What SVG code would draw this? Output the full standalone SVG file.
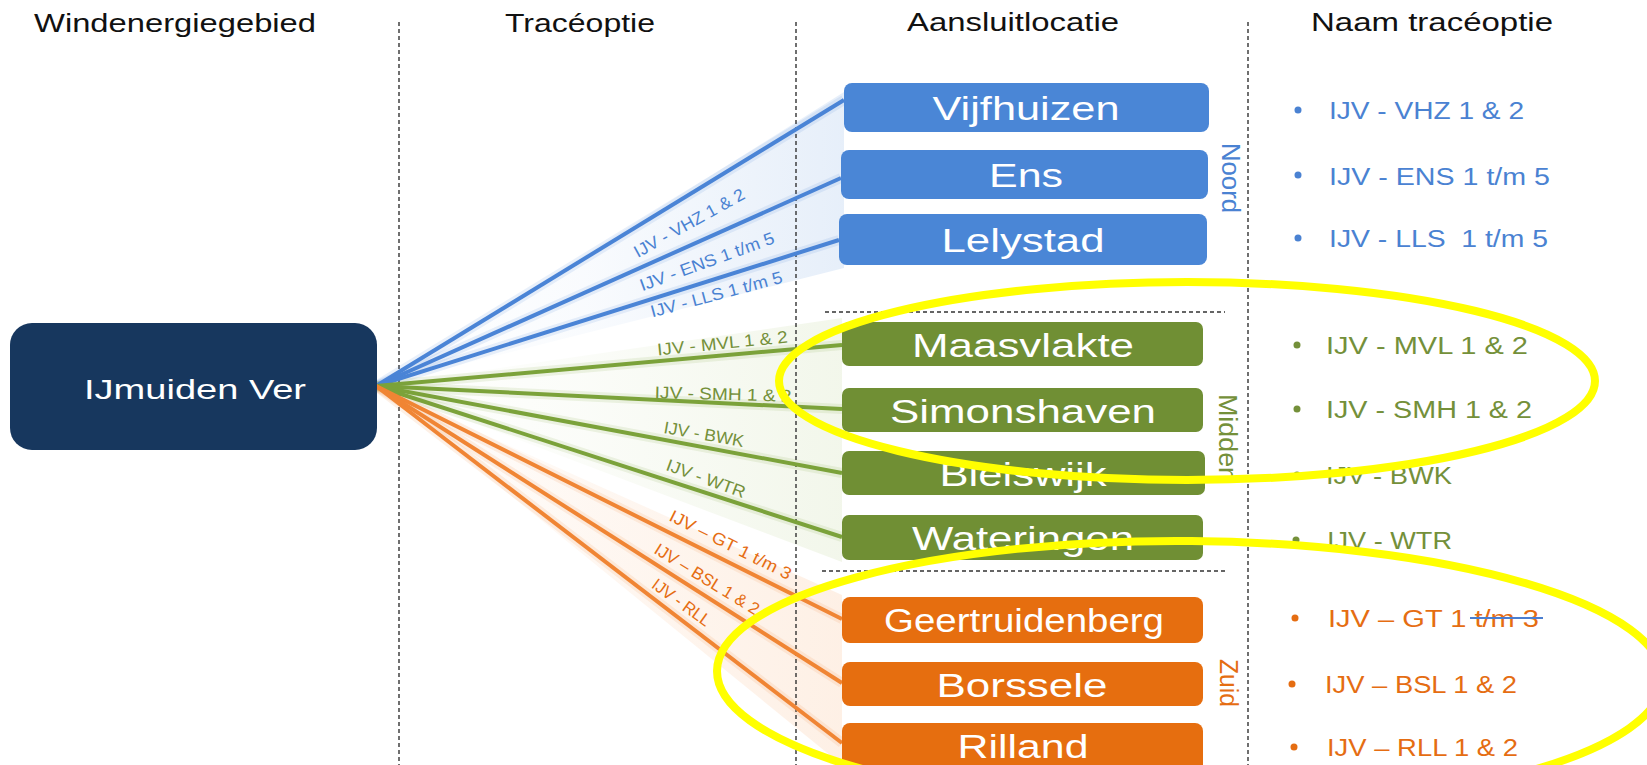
<svg xmlns="http://www.w3.org/2000/svg" width="1647" height="765" viewBox="0 0 1647 765">
<defs>
<style>
.title{font-family:"Liberation Sans",Arial,sans-serif;font-size:26px;fill:#111;}
.box text,.btxt{font-family:"Liberation Sans",Arial,sans-serif;font-size:34px;fill:#fff;text-anchor:middle;}
.lbl{font-family:"Liberation Sans",Arial,sans-serif;font-size:17px;text-anchor:middle;}
.li{font-family:"Liberation Sans",Arial,sans-serif;font-size:23px;}
.side{font-family:"Liberation Sans",Arial,sans-serif;font-size:25px;text-anchor:middle;}
.blue{fill:#4a82d2;}
.green{fill:#74903a;}
.orange{fill:#e56d12;}
.vdash{stroke:#333;stroke-width:1.4;stroke-dasharray:4 3;fill:none;}
.bl{stroke:#4a84d6;stroke-width:4;fill:none;}
.gl{stroke:#7ba23a;stroke-width:4;fill:none;}
.ol{stroke:#f08534;stroke-width:4;fill:none;}
.glow{stroke-width:10;stroke-opacity:0.12;fill:none;}
.yel{fill:none;stroke:#ffff00;stroke-width:8;}
</style>
<linearGradient id="gB" x1="0" y1="0" x2="1" y2="0">
<stop offset="0" stop-color="#d6e4f6" stop-opacity="0"/>
<stop offset="0.45" stop-color="#d6e4f6" stop-opacity="0.15"/>
<stop offset="1" stop-color="#d6e4f6" stop-opacity="0.6"/>
</linearGradient>
<linearGradient id="gG" x1="0" y1="0" x2="1" y2="0">
<stop offset="0" stop-color="#eaf1dd" stop-opacity="0"/>
<stop offset="0.45" stop-color="#eaf1dd" stop-opacity="0.2"/>
<stop offset="1" stop-color="#eaf1dd" stop-opacity="0.6"/>
</linearGradient>
<linearGradient id="gO" x1="0" y1="0" x2="1" y2="0">
<stop offset="0" stop-color="#fde6d4" stop-opacity="0"/>
<stop offset="0.45" stop-color="#fde6d4" stop-opacity="0.3"/>
<stop offset="1" stop-color="#fde6d4" stop-opacity="0.6"/>
</linearGradient>
</defs>
<rect x="0" y="0" width="1647" height="765" fill="#ffffff"/>

<g id="titles">
<text class="title" x="34" y="32" textLength="282" lengthAdjust="spacingAndGlyphs">Windenergiegebied</text>
<text class="title" x="505" y="32" textLength="150" lengthAdjust="spacingAndGlyphs">Tracéoptie</text>
<text class="title" x="907" y="31" textLength="212" lengthAdjust="spacingAndGlyphs">Aansluitlocatie</text>
<text class="title" x="1311" y="31" textLength="242" lengthAdjust="spacingAndGlyphs">Naam tracéoptie</text>
</g>

<g id="fans">
<polygon points="376,386 844,92 844,268" fill="url(#gB)"/>
<polygon points="376,386 842,318 842,562" fill="url(#gG)"/>
<polygon points="376,386 842,595 842,765" fill="url(#gO)"/>
</g>

<g id="dividers">
<line class="vdash" x1="399" y1="22" x2="399" y2="765"/>
<line class="vdash" x1="796" y1="22" x2="796" y2="765"/>
<line class="vdash" x1="1248" y1="22" x2="1248" y2="765"/>
<line class="vdash" x1="825" y1="312" x2="1225" y2="312"/>
<line class="vdash" x1="822" y1="571" x2="1225" y2="571"/>
</g>

<g id="connectors">
<g stroke="#4a84d6" class="glow">
<line x1="376" y1="386" x2="844" y2="100"/>
<line x1="376" y1="386" x2="841" y2="178"/>
<line x1="376" y1="386" x2="839" y2="240"/>
</g>
<g stroke="#7ba23a" class="glow">
<line x1="376" y1="386" x2="842" y2="345"/>
<line x1="376" y1="386" x2="842" y2="409"/>
<line x1="376" y1="386" x2="842" y2="473"/>
<line x1="376" y1="386" x2="842" y2="537"/>
</g>
<g stroke="#f08534" class="glow">
<line x1="376" y1="386" x2="842" y2="619"/>
<line x1="376" y1="386" x2="842" y2="683"/>
<line x1="376" y1="386" x2="842" y2="743"/>
</g>
<line class="bl" x1="376" y1="386" x2="844" y2="100"/>
<line class="bl" x1="376" y1="386" x2="841" y2="178"/>
<line class="bl" x1="376" y1="386" x2="839" y2="240"/>
<line class="gl" x1="376" y1="386" x2="842" y2="345"/>
<line class="gl" x1="376" y1="386" x2="842" y2="409"/>
<line class="gl" x1="376" y1="386" x2="842" y2="473"/>
<line class="gl" x1="376" y1="386" x2="842" y2="537"/>
<line class="ol" x1="376" y1="386" x2="842" y2="619"/>
<line class="ol" x1="376" y1="386" x2="842" y2="683"/>
<line class="ol" x1="376" y1="386" x2="842" y2="743"/>

<text class="lbl blue" transform="translate(692,228) rotate(-29)" textLength="124" lengthAdjust="spacingAndGlyphs">IJV - VHZ 1 &amp; 2</text>
<text class="lbl blue" transform="translate(709,267) rotate(-20)" textLength="142" lengthAdjust="spacingAndGlyphs">IJV - ENS 1 t/m 5</text>
<text class="lbl blue" transform="translate(718,300) rotate(-15)" textLength="136" lengthAdjust="spacingAndGlyphs">IJV - LLS 1 t/m 5</text>
<text class="lbl green" transform="translate(723,349) rotate(-5.7)" textLength="131" lengthAdjust="spacingAndGlyphs">IJV - MVL 1 &amp; 2</text>
<text class="lbl green" transform="translate(723,400) rotate(1.5)" textLength="137" lengthAdjust="spacingAndGlyphs">IJV - SMH 1 &amp; 2</text>
<text class="lbl green" transform="translate(703,440) rotate(10)" textLength="81" lengthAdjust="spacingAndGlyphs">IJV - BWK</text>
<text class="lbl green" transform="translate(704,484) rotate(20)" textLength="83" lengthAdjust="spacingAndGlyphs">IJV - WTR</text>
<text class="lbl orange" transform="translate(728,550) rotate(26.6)" textLength="134" lengthAdjust="spacingAndGlyphs">IJV – GT 1 t/m 3</text>
<text class="lbl orange" transform="translate(704,584) rotate(31.7)" textLength="120" lengthAdjust="spacingAndGlyphs">IJV – BSL 1 &amp; 2</text>
<text class="lbl orange" transform="translate(678,607) rotate(36)" textLength="68" lengthAdjust="spacingAndGlyphs">IJV - RLL</text>
</g>

<g id="ijmuiden">
<rect x="10" y="323" width="367" height="127" rx="22" fill="#17375e"/>
<text class="btxt" x="195" y="399" style="font-size:28px" textLength="222" lengthAdjust="spacingAndGlyphs">IJmuiden Ver</text>
</g>

<g id="vijfhuizen" class="box"><rect x="844" y="83" width="365" height="49" rx="8" fill="#4a86d6"/><text x="1026" y="120" textLength="187" lengthAdjust="spacingAndGlyphs">Vijfhuizen</text></g>
<g id="ens" class="box"><rect x="841" y="150" width="367" height="49" rx="8" fill="#4a86d6"/><text x="1026" y="187" textLength="74" lengthAdjust="spacingAndGlyphs">Ens</text></g>
<g id="lelystad" class="box"><rect x="839" y="214" width="368" height="51" rx="8" fill="#4a86d6"/><text x="1023" y="252" textLength="163" lengthAdjust="spacingAndGlyphs">Lelystad</text></g>
<g id="maasvlakte" class="box"><rect x="842" y="322" width="361" height="44" rx="7" fill="#708f34"/><text x="1023" y="357" textLength="222" lengthAdjust="spacingAndGlyphs">Maasvlakte</text></g>
<g id="simonshaven" class="box"><rect x="842" y="388" width="361" height="44" rx="7" fill="#708f34"/><text x="1023" y="423" textLength="266" lengthAdjust="spacingAndGlyphs">Simonshaven</text></g>
<g id="bleiswijk" class="box"><rect x="842" y="451" width="363" height="44" rx="7" fill="#708f34"/><text x="1023" y="486" textLength="167" lengthAdjust="spacingAndGlyphs">Bleiswijk</text></g>
<g id="wateringen" class="box"><rect x="842" y="515" width="361" height="45" rx="7" fill="#708f34"/><text x="1023" y="550" textLength="222" lengthAdjust="spacingAndGlyphs">Wateringen</text></g>
<g id="geertruidenberg" class="box"><rect x="842" y="597" width="361" height="46" rx="8" fill="#e66e0f"/><text x="1024" y="632" textLength="280" lengthAdjust="spacingAndGlyphs">Geertruidenberg</text></g>
<g id="borssele" class="box"><rect x="842" y="662" width="361" height="44" rx="8" fill="#e66e0f"/><text x="1022" y="697" textLength="171" lengthAdjust="spacingAndGlyphs">Borssele</text></g>
<g id="rilland" class="box"><rect x="842" y="723" width="361" height="50" rx="8" fill="#e66e0f"/><text x="1023" y="758" textLength="131" lengthAdjust="spacingAndGlyphs">Rilland</text></g>

<g id="regions">
<text class="side blue" transform="translate(1222,178) rotate(90)" textLength="70" lengthAdjust="spacingAndGlyphs">Noord</text>
<text class="side green" transform="translate(1219,438) rotate(90)" textLength="88" lengthAdjust="spacingAndGlyphs">Midden</text>
<text class="side orange" transform="translate(1220,683) rotate(90)" textLength="48" lengthAdjust="spacingAndGlyphs">Zuid</text>
</g>

<g id="names">
<g class="blue">
<circle cx="1298" cy="110" r="3.5"/><text class="li blue" x="1329" y="119" textLength="195" lengthAdjust="spacingAndGlyphs">IJV - VHZ 1 &amp; 2</text>
<circle cx="1298" cy="175" r="3.5"/><text class="li blue" x="1329" y="185" textLength="221" lengthAdjust="spacingAndGlyphs">IJV - ENS 1 t/m 5</text>
<circle cx="1298" cy="238" r="3.5"/><text class="li blue" x="1329" y="247" textLength="219" lengthAdjust="spacingAndGlyphs" xml:space="preserve">IJV - LLS  1 t/m 5</text>
</g>
<g class="green">
<circle cx="1297" cy="345" r="3.5"/><text class="li green" x="1326" y="354" textLength="202" lengthAdjust="spacingAndGlyphs">IJV - MVL 1 &amp; 2</text>
<circle cx="1297" cy="409" r="3.5"/><text class="li green" x="1326" y="418" textLength="206" lengthAdjust="spacingAndGlyphs">IJV - SMH 1 &amp; 2</text>
<circle cx="1297" cy="475" r="3.5"/><text class="li green" x="1326" y="484" textLength="126" lengthAdjust="spacingAndGlyphs">IJV - BWK</text>
<circle cx="1296" cy="540" r="3.5"/><text class="li green" x="1327" y="549" textLength="125" lengthAdjust="spacingAndGlyphs">IJV - WTR</text>
</g>
<g class="orange">
<circle cx="1295" cy="618" r="3.5"/><text class="li orange" x="1328" y="627" textLength="211" lengthAdjust="spacingAndGlyphs">IJV – GT 1 t/m 3</text>
<line x1="1470" y1="618" x2="1543" y2="618" stroke="#4a7ed0" stroke-width="2"/>
<circle cx="1292" cy="684" r="3.5"/><text class="li orange" x="1325" y="693" textLength="192" lengthAdjust="spacingAndGlyphs">IJV – BSL 1 &amp; 2</text>
<circle cx="1294" cy="747" r="3.5"/><text class="li orange" x="1327" y="756" textLength="191" lengthAdjust="spacingAndGlyphs">IJV – RLL 1 &amp; 2</text>
</g>
</g>

<g id="highlights">
<ellipse class="yel" cx="1187" cy="381" rx="408" ry="99"/>
<ellipse class="yel" cx="1190" cy="675" rx="473" ry="134" transform="rotate(0.5 1190 675)"/>
</g>
</svg>
